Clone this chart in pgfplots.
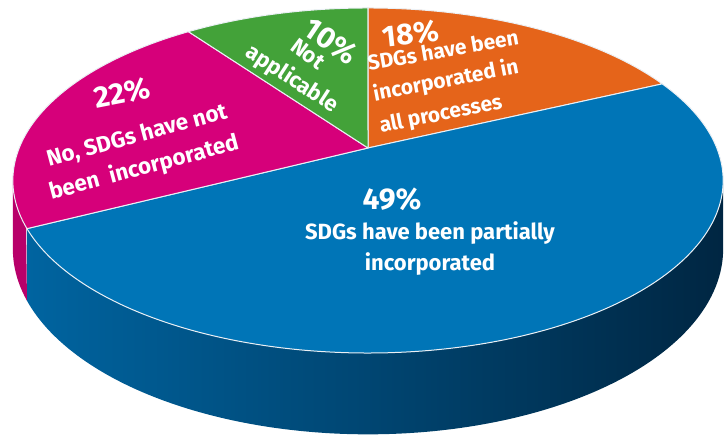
\documentclass[border=0pt]{standalone}
\usepackage{fontspec}
\setmainfont{Fira Sans}
\usepackage{pgfplots}
\usepackage{pgfplotstable}
\pgfplotsset{compat=1.18}

\definecolor{cOrange}{RGB}{229,100,26}
\definecolor{cBlue}{RGB}{0,117,183}
\definecolor{cPink}{RGB}{214,0,122}
\definecolor{cGreen}{RGB}{67,162,57}
\definecolor{cPinkSide}{RGB}{184,0,106}
\definecolor{cSideL}{RGB}{0,100,160}
\definecolor{cSideM}{RGB}{0,64,106}
\definecolor{cSideR}{RGB}{0,38,66}
\definecolor{cEdge}{RGB}{235,240,245}

\pgfplotstableread{
slice value
incorporated 18
partially 49
notincorporated 22
notapplicable 10
}\piedata

\pgfplotstablegetelem{0}{value}\of\piedata\let\vA\pgfplotsretval
\pgfplotstablegetelem{1}{value}\of\piedata\let\vB\pgfplotsretval
\pgfplotstablegetelem{2}{value}\of\piedata\let\vC\pgfplotsretval
\pgfplotstablegetelem{3}{value}\of\piedata\let\vD\pgfplotsretval
\pgfmathsetmacro\tot{\vA+\vB+\vC+\vD}
\pgfmathsetmacro\aB{90-360*(\vA/\tot)}
\pgfmathsetmacro\aC{\aB-360*(\vB/\tot)}
\pgfmathsetmacro\aD{\aC-360*(\vC/\tot)}
\pgfmathsetmacro\aE{\aD-360*(\vD/\tot)}

\begin{document}
\begin{tikzpicture}
\begin{axis}[width=727pt,height=435pt,scale only axis,
  xmin=0,xmax=727,ymin=0,ymax=435,hide axis,clip=false,
  declare function={
    px(\t)=368+348.8*cos(\t)/(1+0.1884*sin(\t));
    py(\t)=287+166.4*sin(\t)/(1+0.1884*sin(\t));
    pb(\t)=py(\t)-66/(1+0.1884*sin(\t));
    tt(\s,\a,\b)=ifthenelse(\s<=1,\a+(\b-\a)*\s,\b-(\b-\a)*(\s-1));
  }]
\path (axis cs:0,0) rectangle (axis cs:727,435);
% side walls
\addplot[draw=none, left color=cSideL, middle color=cSideM, right color=cSideR,
  domain=0:2, samples=301, variable=\s]
  ({px(tt(\s,\aC,-10.86))},{ifthenelse(\s<=1,pb(tt(\s,\aC,-10.86)),py(tt(\s,\aC,-10.86)))});
\addplot[draw=none, fill=cPinkSide, domain=0:2, samples=61, variable=\s]
  ({px(tt(\s,-169.14,\aC))},{ifthenelse(\s<=1,pb(tt(\s,-169.14,\aC)),py(tt(\s,-169.14,\aC)))});
% top face slices
\addplot[fill=cOrange, draw=cEdge, line width=1pt, line join=round, domain=\aB:90, samples=80]
  ({px(x)},{py(x)}) -- (axis cs:368,287) -- cycle;
\addplot[fill=cBlue, draw=cEdge, line width=1pt, line join=round, domain=\aC:\aB, samples=200]
  ({px(x)},{py(x)}) -- (axis cs:368,287) -- cycle;
\addplot[fill=cPink, draw=cEdge, line width=1pt, line join=round, domain=\aD:\aC, samples=90]
  ({px(x)},{py(x)}) -- (axis cs:368,287) -- cycle;
\addplot[fill=cGreen, draw=cEdge, line width=1pt, line join=round, domain=\aE:\aD, samples=50]
  ({px(x)},{py(x)}) -- (axis cs:368,287) -- cycle;

% labels
\begin{scope}[every node/.style={text=white, font=\bfseries\fontsize{22}{24}\selectfont, inner sep=0pt}]
\node[font=\bfseries\fontsize{30}{32}\selectfont] at (axis cs:392,236) {49\%};
\node at (axis cs:430,202) {SDGs have been partially};
\node at (axis cs:430,171) {incorporated};

\node[font=\bfseries\fontsize{30}{32}\selectfont, rotate=11] at (axis cs:122,342) {22\%};
\node[rotate=15, font=\bfseries\fontsize{22.5}{24}\selectfont] at (axis cs:137,299) {No, SDGs have not};
\node[rotate=15, font=\bfseries\fontsize{22.5}{24}\selectfont] at (axis cs:144,267) {been~ incorporated};

\node[font=\bfseries\fontsize{30}{32}\selectfont, rotate=6] at (axis cs:411,401) {18\%};
\node[rotate=10, font=\bfseries\fontsize{21}{24}\selectfont] at (axis cs:443,385) {SDGs have been};
\node[rotate=11, font=\bfseries\fontsize{21}{24}\selectfont] at (axis cs:446,354) {incorporated in};
\node[rotate=11, font=\bfseries\fontsize{21}{24}\selectfont] at (axis cs:441,320) {all processes};

\node[font=\bfseries\fontsize{30}{32}\selectfont, rotate=-34] at (axis cs:331,394) {10\%};
\node[rotate=-37] at (axis cs:308,381) {Not};
\node[rotate=-33] at (axis cs:292,356) {applicable};
\end{scope}
\end{axis}
\end{tikzpicture}
\end{document}
